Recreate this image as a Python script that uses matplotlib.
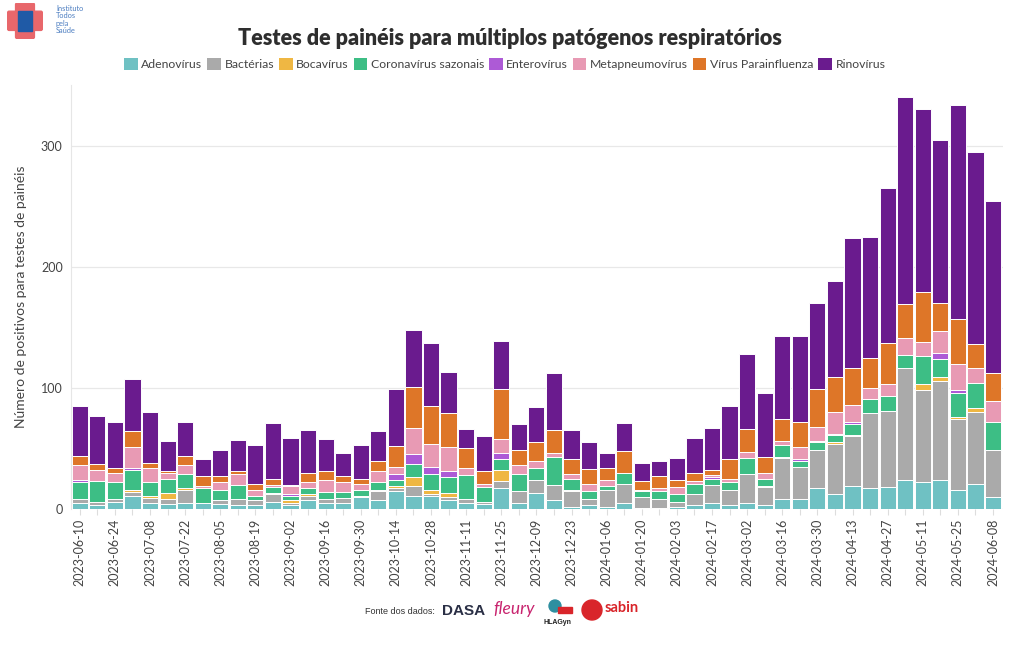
import matplotlib
matplotlib.use("Agg")
import matplotlib.pyplot as plt
from matplotlib.patches import Rectangle, FancyBboxPatch, Ellipse
import numpy as np
import pandas as pd

plt.rcParams['font.family'] = ['Lato', 'DejaVu Sans']

# weekly dates (2023-06-10 .. 2024-06-08)
weeks = pd.date_range('2023-06-10', '2024-06-08', freq='7D').strftime('%Y-%m-%d').tolist()

# positives per pathogen
adeno = [5, 3, 6, 11, 5, 4, 5, 5, 4, 3, 3, 6, 3, 7, 5, 5, 10, 7,
         15, 11, 11, 7, 5, 4, 17, 5, 13, 7, 2, 3, 2, 5, 1, 1, 2, 3,
         5, 3, 5, 3, 8, 8, 17, 12, 19, 17, 18, 24, 22, 24, 16, 21, 10]
bacterias = [3, 3, 2, 3, 4, 4, 11, 0, 3, 5, 4, 6, 2, 4, 3, 4, 0, 8,
             2, 8, 1, 3, 3, 2, 6, 10, 11, 13, 13, 5, 14, 16, 9, 7, 4, 9,
             15, 13, 24, 15, 34, 27, 32, 42, 41, 62, 63, 92, 76, 82, 58, 59, 39]
boca = [0, 0, 0, 2, 2, 5, 1, 0, 0, 0, 0, 1, 2, 1, 0, 0, 1, 1,
        2, 7, 4, 3, 0, 0, 9, 0, 0, 0, 1, 0, 0, 0, 0, 0, 0, 0,
        0, 0, 0, 1, 1, 0, 0, 1, 1, 0, 0, 0, 5, 3, 2, 3, 0]
corona = [14, 17, 14, 16, 11, 12, 12, 12, 9, 12, 4, 5, 4, 5, 6, 5, 5, 6,
          5, 11, 13, 13, 20, 12, 9, 14, 10, 23, 9, 7, 3, 9, 5, 7, 6, 9,
          5, 6, 13, 6, 10, 5, 6, 6, 9, 12, 12, 11, 23, 15, 20, 21, 23]
entero = [2, 0, 0, 2, 0, 0, 0, 0, 0, 0, 0, 0, 1, 0, 0, 0, 0, 0,
          5, 8, 6, 5, 0, 0, 5, 0, 0, 0, 0, 0, 0, 0, 0, 0, 0, 0,
          1, 0, 0, 0, 0, 1, 1, 1, 2, 0, 0, 0, 0, 5, 2, 0, 0]
metap = [12, 9, 8, 17, 12, 5, 7, 2, 6, 9, 5, 2, 7, 5, 10, 8, 5, 9,
         6, 22, 19, 20, 6, 3, 12, 7, 6, 3, 4, 6, 5, 0, 1, 2, 6, 2,
         2, 3, 5, 5, 3, 10, 12, 18, 14, 9, 10, 14, 12, 18, 22, 12, 17]
parainf = [8, 5, 4, 13, 4, 1, 8, 8, 5, 2, 5, 5, 1, 8, 7, 5, 4, 9,
           17, 34, 31, 28, 16, 10, 41, 13, 15, 19, 12, 12, 10, 18, 7, 10, 6, 7,
           4, 16, 19, 13, 18, 21, 31, 29, 30, 25, 34, 28, 41, 23, 37, 20, 23]
rino = [41, 40, 38, 43, 42, 25, 28, 14, 22, 26, 32, 46, 39, 35, 27, 19, 28, 24,
        47, 47, 52, 34, 16, 29, 40, 21, 29, 47, 24, 22, 12, 23, 15, 13, 18, 29,
        35, 44, 62, 53, 69, 71, 71, 79, 108, 100, 128, 171, 151, 135, 177, 159, 142]

series = [
    ('Adenovírus', adeno, '#6fc1c3'),
    ('Bactérias', bacterias, '#aaaaaa'),
    ('Bocavírus', boca, '#efb743'),
    ('Coronavírus sazonais', corona, '#3dbe85'),
    ('Enterovírus', entero, '#ad5ad6'),
    ('Metapneumovírus', metap, '#e89ab4'),
    ('Vírus Parainfluenza', parainf, '#de7628'),
    ('Rinovírus', rino, '#6a1b8e'),
]

W, H = 1020, 650
fig = plt.figure(figsize=(W / 100, H / 100), dpi=100)
ax = fig.add_axes([0.0696, 0.217, 0.9134, 0.652])

x = np.arange(len(weeks))
bottom = np.zeros(len(weeks))
for name, vals, col in series:
    vals = np.array(vals, dtype=float)
    ax.bar(x, vals, bottom=bottom, width=0.92, color=col,
           edgecolor='white', linewidth=0.7, label=name)
    bottom += vals

ax.set_xlim(-0.5, len(weeks) - 0.45)
ax.set_ylim(0, 350)
ax.set_yticks([0, 100, 200, 300])
ax.grid(axis='y', color='#e8e8e8', linewidth=0.9)
ax.set_axisbelow(True)
for s in ['top', 'right', 'bottom']:
    ax.spines[s].set_visible(False)
ax.spines['left'].set_color('#e6e6e6')

ax.set_xticks(x)
ax.set_xticklabels([w if i % 2 == 0 else '' for i, w in enumerate(weeks)],
                   rotation=90, fontsize=9, color='#444444')
ax.tick_params(axis='x', length=4, color='#dddddd', pad=3)
ax.tick_params(axis='y', length=0, labelsize=9, labelcolor='#444444', pad=6)
ax.set_ylabel('Número de positivos para testes de painéis', fontsize=10,
              color='#444444', labelpad=10)

fig.text(0.5, 0.941, 'Testes de painéis para múltiplos patógenos respiratórios',
         ha='center', va='center', fontsize=15.5, fontweight='heavy', color='#2e2e2e')

leg_handles = [Rectangle((0, 0), 1, 1, facecolor=c, edgecolor='none') for _, _, c in series]
fig.legend(leg_handles, [n for n, _, _ in series], loc='center', ncol=8,
           bbox_to_anchor=(0.495, 0.901), frameon=False, fontsize=8.8,
           handlelength=1.1, handleheight=1.1, handletextpad=0.3,
           columnspacing=0.4, labelcolor='#444444')

# logo top-left
lg = fig.add_axes([0.007, 0.94, 0.035, 0.056])
lg.set_xlim(0, 36)
lg.set_ylim(0, 36)
lg.axis('off')
lg.add_patch(FancyBboxPatch((2, 10), 32, 16, boxstyle='round,pad=1.5', color='#e8676b'))
lg.add_patch(FancyBboxPatch((10, 2), 16, 32, boxstyle='round,pad=1.5', color='#e8676b'))
lg.add_patch(Rectangle((11, 8), 14, 20, color='#1f5aa6'))
fig.text(56 / W, 1 - 5 / H, 'Instituto\nTodos\npela\nSaúde', ha='left', va='top',
         fontsize=5.3, color='#4a7cc0', linespacing=1.05)


def circle(cx, cy, r, col):
    # pixel coords -> figure coords, kept round
    fig.patches.append(Ellipse((cx / W, 1 - cy / H), 2 * r / W, 2 * r / H,
                               transform=fig.transFigure, color=col, zorder=3))


# data sources footer
fig.text(400 / W, 1 - 611 / H, 'Fonte dos dados:', ha='center', va='center',
         fontsize=6.5, color='#333333', family=['Liberation Sans'])
fig.text(464 / W, 1 - 611 / H, 'DASA', ha='center', va='center', fontsize=11,
         fontweight='bold', color='#2a2f45', family=['Liberation Sans'])
fig.text(514 / W, 1 - 609 / H, 'fleury', ha='center', va='center', fontsize=12.5,
         style='italic', color='#c8236e')
circle(555, 606, 6, '#2e8fa0')
fig.patches.append(Rectangle((558 / W, 1 - 613 / H), 14 / W, 6 / H,
                             transform=fig.transFigure, color='#d9252a', zorder=3))
fig.text(558 / W, 1 - 622 / H, 'HLAGyn', ha='center', va='center', fontsize=5,
         fontweight='bold', color='#222222', family=['Liberation Sans'])
circle(592, 610, 10, '#d9252a')
fig.text(605 / W, 1 - 608 / H, 'sabin', ha='left', va='center', fontsize=10.5,
         fontweight='bold', color='#d9252a')

fig.savefig('out.png', dpi=100)
